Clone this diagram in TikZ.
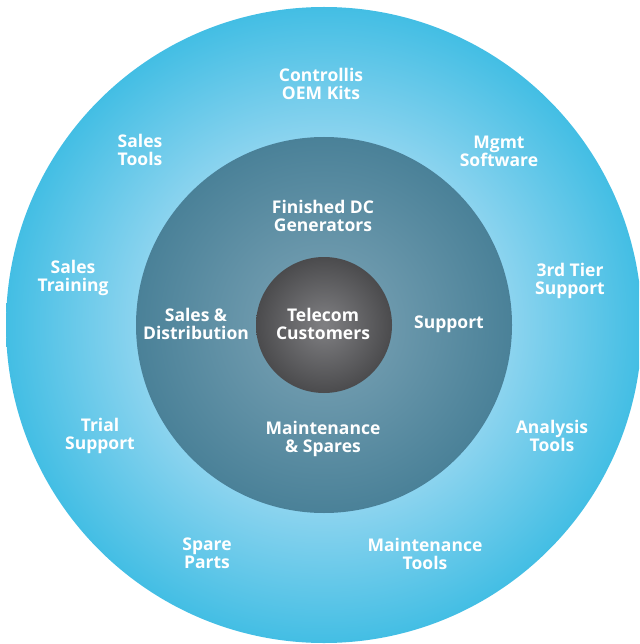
\documentclass[tikz,border=0pt]{standalone}
\usepackage{fontspec}
\setmainfont{Open Sans}
\usepackage{tikz}
\definecolor{ringdark}{HTML}{43BEE4}
\definecolor{ringlight}{HTML}{8DD4EF}
\definecolor{middark}{HTML}{4A8198}
\definecolor{midlight}{HTML}{7EA5B7}
\definecolor{coredark}{HTML}{4B4B4D}
\definecolor{corelight}{HTML}{808083}
\pgfdeclareradialshading{ringshade}{\pgfpoint{0bp}{0bp}}{color(0bp)=(ringlight); color(14.5bp)=(ringlight); color(25bp)=(ringdark); color(50bp)=(ringdark)}
\pgfdeclareradialshading{midshade}{\pgfpoint{0bp}{0bp}}{color(0bp)=(midlight); color(25bp)=(middark); color(50bp)=(middark)}
\pgfdeclareradialshading{coreshade}{\pgfpoint{0bp}{0bp}}{color(0bp)=(corelight); color(25bp)=(coredark); color(50bp)=(coredark)}

\begin{document}
\begin{tikzpicture}[x=1pt,y=-1pt,
    lbl/.style={text=white,align=center,font=\fontsize{17.5}{18}\selectfont\bfseries,inner sep=0pt}]
    \useasboundingbox (0,0) rectangle (639,644);
    \begin{scope}
    \clip (0,0) rectangle (639,644);
    \shade[shading=ringshade] (324,325) circle (318);
    \end{scope}
    \shade[shading=midshade] (324,325) circle (188);
    \shade[shading=coreshade] (324,325) circle (68);

    \node[lbl] (core) at (323,324) {Telecom\\Customers};
    \node[lbl] (gen) at (323,216) {Finished DC\\Generators};
    \node[lbl] (sales) at (196,324) {Sales \&\\Distribution};
    \node[lbl] (supp) at (449,324) {Support};
    \node[lbl] (maint) at (323,439) {Maintenance\\\& Spares};

    \node[lbl] (oem) at (321,84) {Controllis\\OEM Kits};
    \node[lbl] (mgmt) at (499,151) {Mgmt\\Software};
    \node[lbl] (tier) at (570,281) {3rd Tier\\Support};
    \node[lbl] (anal) at (552,436) {Analysis\\Tools};
    \node[lbl] (mtools) at (425,554) {Maintenance\\Tools};
    \node[lbl] (spare) at (207,553) {Spare\\Parts};
    \node[lbl] (trial) at (100,436) {Trial\\Support};
    \node[lbl] (train) at (73,278) {Sales\\Training};
    \node[lbl] (stools) at (140,150) {Sales\\Tools};
\end{tikzpicture}
\end{document}
